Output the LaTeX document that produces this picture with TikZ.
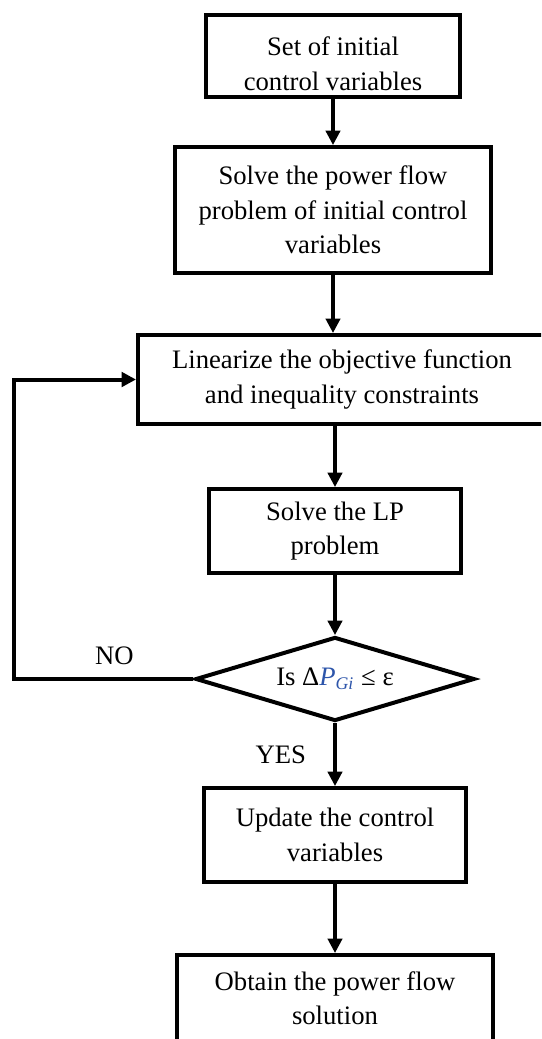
\documentclass[tikz,border=0pt]{standalone}
\usepackage{fontspec}
\setmainfont{Liberation Serif}
\usetikzlibrary{shapes.geometric,arrows.meta}
\definecolor{eqblue}{RGB}{45,85,170}

\begin{document}
\begin{tikzpicture}[x=0.45pt,y=-0.45pt,
    >={Triangle[length=6.5pt,width=6.5pt]},
    font=\fontsize{12}{15.5}\selectfont,
    box/.style={draw,line width=1.8pt,align=center,inner sep=0pt},
    decision/.style={draw,diamond,aspect=3.2,line width=1.8pt,inner sep=0pt},
    flow/.style={line width=1.4pt,->}]
    \useasboundingbox (0,0) rectangle (541,1039);
    \clip (0,0) rectangle (541,1039);
    % steps
    \node[box,minimum width=114.3pt,minimum height=36.9pt,
        label={[align=center,yshift=-3.5pt]center:Set of initial\\control variables}] (init) at (333,56) {};
    \node[box,minimum width=141.8pt,minimum height=56.7pt] (pflow) at (333,210) {Solve the power flow\\problem of initial control\\variables};
    \node[box,minimum width=183.6pt,minimum height=40.1pt] (lin) at (342,379.5) {Linearize the objective function\\and inequality constraints};
    \node[box,minimum width=113.4pt,minimum height=37.8pt] (lp) at (335,531) {Solve the LP\\problem};
    \node[decision,minimum width=125.6pt,minimum height=37.8pt] (check) at (335,679) {Is Δ\textcolor{eqblue}{\textit{P}\textsubscript{\textit{Gi}}} ≤ ε};
    \node[box,minimum width=117.5pt,minimum height=42.3pt] (upd) at (335,835) {Update the control\\variables};
    \node[box,minimum width=142.2pt,minimum height=39.2pt] (sol) at (335,998.5) {Obtain the power flow\\solution};
    \coordinate (back) at (14,679);
    % connectors
    \draw[flow] (init) -- (pflow);
    \draw[flow] (pflow) -- (pflow |- lin.north);
    \draw[flow] (lin.south -| lp) -- (lp);
    \draw[flow] (lp) -- (check);
    \draw[flow] (check) -- node[left,xshift=-9pt] {YES} (upd);
    \draw[flow] (upd) -- (sol);
    \draw[flow,line width=1.8pt] (check.west) -- node[pos=0.44,above,yshift=2pt] {NO} (check.west -| back) |- (lin.west);
\end{tikzpicture}
\end{document}
